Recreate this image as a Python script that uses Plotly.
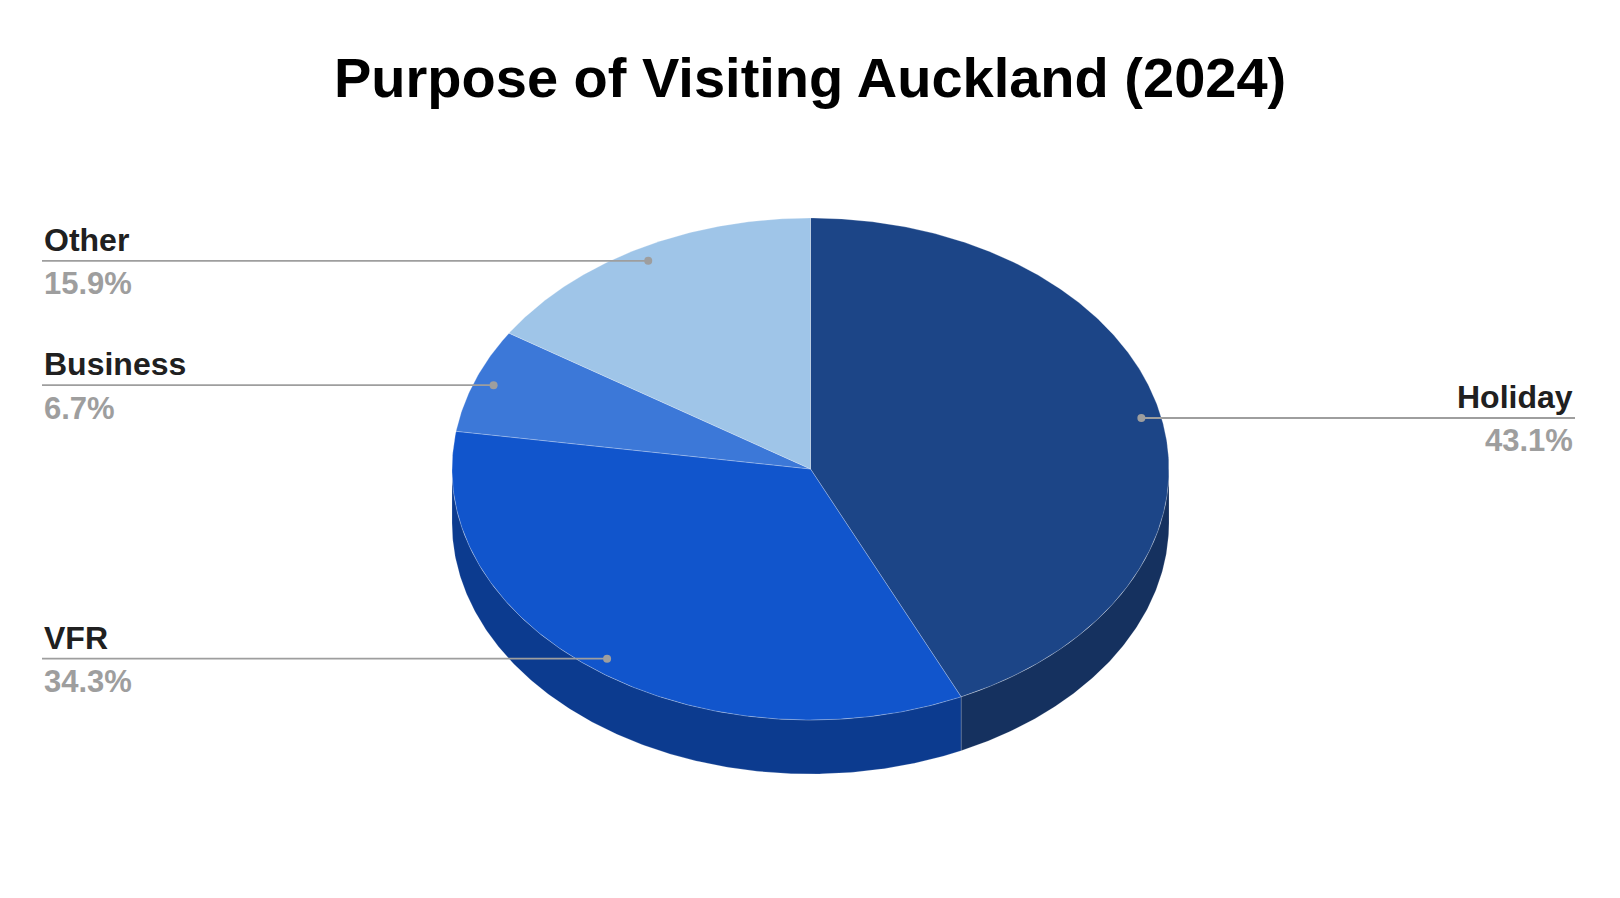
import numpy as np
import plotly.graph_objects as go

# data
categories = ["Holiday", "VFR", "Business", "Other"]
shares = [43.1, 34.3, 6.7, 15.9]
top_colors = ["#1c4587", "#1155cc", "#3c78d8", "#9fc5e8"]
side_colors = ["#15315f", "#0c3b8f", "#2a54a0", "#6f8aa2"]

W, H = 1620, 898
PAGE_PAD = 8  # default body margin of the html page
# pie geometry in pixels
cx, cy = 810.5, 469
rx, ry = 358.5, 251
depth = 54
label_r = 0.945
left_x, right_x = 42, 1575
grey = "#9e9e9e"


def ellipse(a0, a1, off=0.0, scale=1.0):
    # angles in degrees, clockwise from 12 o'clock
    t = np.radians(np.linspace(a0, a1, max(2, int(abs(a1 - a0) * 2) + 2)))
    return cx + scale * rx * np.sin(t), cy - scale * ry * np.cos(t) + off


fig = go.Figure()

total = sum(shares)
bounds = np.concatenate([[0], np.cumsum(shares) / total * 360])

# side walls (only the front half is visible)
for i, name in enumerate(categories):
    s0 = max(bounds[i], 90)
    s1 = min(bounds[i + 1], 270)
    if s1 <= s0:
        continue
    xt, yt = ellipse(s0, s1)
    xb, yb = ellipse(s1, s0, off=depth)
    fig.add_trace(go.Scatter(
        x=np.concatenate([xt, xb, xt[:1]]), y=np.concatenate([yt, yb, yt[:1]]),
        mode="lines", fill="toself", fillcolor=side_colors[i],
        line=dict(color="rgba(255,255,255,0.22)", width=0.8),
        hoverinfo="skip", showlegend=False))

# top faces
for i, name in enumerate(categories):
    xa, ya = ellipse(bounds[i], bounds[i + 1])
    fig.add_trace(go.Scatter(
        x=np.concatenate([[cx], xa, [cx]]), y=np.concatenate([[cy], ya, [cy]]),
        mode="lines", fill="toself", fillcolor=top_colors[i],
        line=dict(color="rgba(255,255,255,0.3)", width=0.8),
        hoverinfo="skip", showlegend=False))

# leader lines, dots and labels
annotations = []
for i, name in enumerate(categories):
    mid = (bounds[i] + bounds[i + 1]) / 2
    dx, dy = ellipse(mid, mid, scale=label_r)
    px, py = dx[0], dy[0]
    right = px > cx
    end_x = right_x if right else left_x
    fig.add_trace(go.Scatter(
        x=[end_x, px], y=[py, py], mode="lines",
        line=dict(color=grey, width=1.8), hoverinfo="skip", showlegend=False))
    fig.add_trace(go.Scatter(
        x=[px], y=[py], mode="markers",
        marker=dict(color=grey, size=8), hoverinfo="skip", showlegend=False))
    anchor = "right" if right else "left"
    annotations.append(dict(
        x=end_x, y=py - 21, xref="x", yref="y", text=name, showarrow=False,
        xanchor=anchor, yanchor="middle",
        font=dict(family="Arial, Liberation Sans", size=32, color="#202020", weight="bold")))
    annotations.append(dict(
        x=end_x, y=py + 23, xref="x", yref="y", text=f"{shares[i] / total * 100:.1f}%",
        showarrow=False, xanchor=anchor, yanchor="middle",
        font=dict(family="Arial, Liberation Sans", size=31, color=grey, weight="bold")))

annotations.append(dict(
    x=W / 2, y=77, xref="x", yref="y", text="Purpose of Visiting Auckland (2024)",
    showarrow=False, xanchor="center", yanchor="middle",
    font=dict(family="Arial, Liberation Sans", size=56, color="#000000", weight="bold")))

fig.update_layout(
    width=W, height=H,
    margin=dict(l=0, r=0, t=0, b=0),
    paper_bgcolor="white", plot_bgcolor="white",
    annotations=annotations,
    xaxis=dict(range=[PAGE_PAD, W + PAGE_PAD], visible=False, fixedrange=True),
    yaxis=dict(range=[H + PAGE_PAD, PAGE_PAD], visible=False, fixedrange=True),
)

fig.write_html("out.html")
